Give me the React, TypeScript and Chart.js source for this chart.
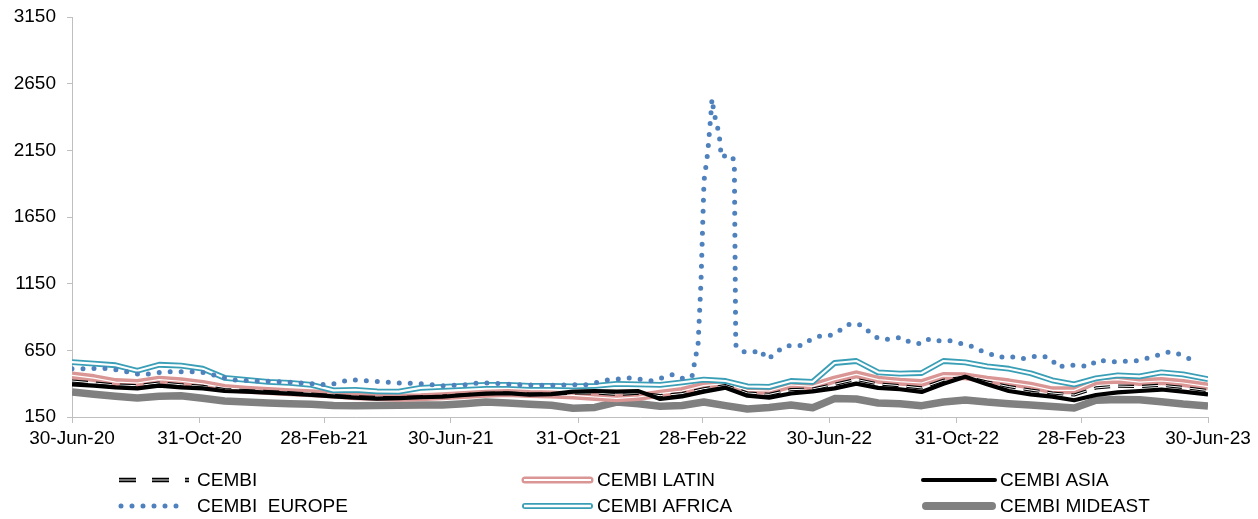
import { useEffect, useRef } from "react";
import { Chart, registerables } from "chart.js";

Chart.register(...registerables);

// x positions are day offsets from 30-Jun-2020
const tickDays = [0, 123, 243, 365, 488, 608, 730, 853, 973, 1095];
const tickLabels = ["30-Jun-20", "31-Oct-20", "28-Feb-21", "30-Jun-21", "31-Oct-21", "28-Feb-22", "30-Jun-22", "31-Oct-22", "28-Feb-23", "30-Jun-23"];
const yTicks = [150, 650, 1150, 1650, 2150, 2650, 3150];

const days = [0, 21, 42, 63, 84, 105, 126, 147, 168, 189, 210, 231, 252, 273, 294, 315, 336, 357, 378, 399, 420, 441, 462, 483, 504, 525, 546, 567, 588, 609, 630, 651, 672, 693, 714, 735, 756, 777, 798, 819, 840, 861, 882, 903, 924, 945, 966, 987, 1008, 1029, 1050, 1071, 1095];

const cembi = [420, 405, 390, 385, 405, 392, 380, 356, 348, 340, 332, 322, 312, 302, 296, 296, 302, 306, 316, 326, 330, 322, 322, 330, 330, 320, 328, 310, 325, 362, 385, 330, 320, 355, 360, 395, 432, 398, 385, 368, 425, 450, 412, 378, 352, 330, 315, 368, 382, 378, 388, 372, 348];
const cembiLatin = [462, 442, 412, 405, 430, 418, 398, 368, 355, 345, 336, 328, 318, 305, 300, 295, 298, 305, 315, 325, 330, 322, 318, 312, 300, 290, 300, 325, 345, 385, 400, 350, 345, 390, 380, 430, 470, 430, 415, 405, 458, 455, 430, 410, 385, 350, 350, 420, 430, 412, 420, 405, 378];
const cembiAsia = [395, 385, 372, 365, 385, 372, 365, 345, 340, 333, 325, 315, 305, 295, 288, 292, 298, 302, 315, 325, 328, 318, 322, 340, 345, 340, 344, 285, 305, 340, 370, 310, 295, 326, 342, 365, 400, 368, 358, 338, 400, 452, 395, 345, 320, 303, 276, 315, 335, 345, 356, 340, 320];
const cembiAfrica = [561, 550, 538, 497, 542, 535, 512, 444, 429, 414, 406, 391, 350, 353, 342, 340, 369, 376, 384, 391, 391, 384, 384, 380, 384, 399, 395, 391, 410, 430, 420, 380, 376, 420, 414, 555, 570, 485, 476, 480, 570, 560, 530, 512, 478, 425, 395, 440, 462, 455, 485, 470, 434];
const cembiMideast = [338, 320, 305, 292, 305, 310, 290, 270, 262, 255, 250, 245, 237, 234, 236, 238, 240, 240, 250, 262, 255, 245, 238, 215, 222, 262, 250, 230, 236, 262, 235, 210, 222, 240, 220, 288, 285, 255, 250, 235, 262, 278, 262, 250, 240, 228, 218, 275, 282, 280, 265, 248, 233];

const europeDays = [0, 36.6, 67.5, 89.6, 123.4, 135.9, 155.2, 181.2, 213, 248.7, 268, 290, 313, 335.5, 357.6, 381.7, 393.3, 425, 451, 473.3, 496.4, 515.7, 537.9, 559, 579.3, 589, 597.6, 603.5, 606.3, 609.2, 612.8, 615.7, 616.9, 618.6, 621.1, 623.7, 625.9, 632.6, 638.4, 639.8, 645.5, 655.2, 664.8, 668, 676.7, 684.4, 693.8, 703.4, 711.4, 721, 728.7, 737.1, 745.1, 753.1, 762.8, 770.9, 778.9, 788.5, 799.8, 807.8, 819.1, 826.4, 836, 846.3, 856, 864.7, 873.6, 884, 892.9, 903.5, 914.5, 925.1, 934.7, 944.4, 949.8, 959.8, 970.7, 981.3, 987.8, 1003.8, 1024.7, 1043.3, 1050.4, 1059.1, 1067.4, 1076.1, 1086.1];
const cembiEurope = [512, 514, 466, 489, 489, 467, 429, 420, 409, 391, 431, 419, 406, 401, 384, 393, 409, 393, 389, 389, 393, 427, 444, 421, 469, 439, 452, 700, 1168, 1921, 2135, 2406, 2537, 2444, 2353, 2281, 2097, 2122, 2077, 690, 640, 635, 650, 588, 610, 672, 690, 685, 728, 758, 758, 778, 834, 853, 834, 766, 733, 733, 748, 710, 698, 736, 721, 721, 703, 690, 653, 627, 597, 607, 585, 602, 610, 585, 522, 540, 534, 530, 577, 565, 570, 602, 627, 640, 620, 590, 577];

const PINK = "#DA9694";
const TEAL = "#3A9FB6";
const BLUE = "#4F81BD";
const GRAY = "#808080";
const FONT = "'Liberation Sans', Arial, sans-serif";

const pts = (xs: number[], ys: number[]) => xs.map((x, i) => ({ x, y: ys[i] }));

const legendPlugin = {
  id: "customLegend",
  afterDraw(chart: any) {
    const ctx = chart.ctx as CanvasRenderingContext2D;
    const cols = [
      { s: 119, e: 189, t: 197 },
      { s: 522, e: 593, t: 597 },
      { s: 923, e: 995, t: 1000 },
    ];
    const rows = [480, 506];
    const line = (x1: number, x2: number, y: number, color: string, w: number, cap: CanvasLineCap, dash: number[] = []) => {
      ctx.save();
      ctx.beginPath();
      ctx.strokeStyle = color;
      ctx.lineWidth = w;
      ctx.lineCap = cap;
      ctx.setLineDash(dash);
      ctx.moveTo(x1, y);
      ctx.lineTo(x2, y);
      ctx.stroke();
      ctx.restore();
    };
    // CEMBI
    line(cols[0].s, cols[0].e, rows[0], "#000", 4.5, "butt", [17, 16]);
    line(cols[0].s, cols[0].e, rows[0], "#9a9a9a", 1.3, "butt", [17, 16]);
    // LATIN
    line(cols[1].s + 3, cols[1].e - 3, rows[0], PINK, 7, "round");
    line(cols[1].s + 2, cols[1].e - 2, rows[0], "#fff", 2, "butt");
    // ASIA
    line(cols[2].s, cols[2].e, rows[0], "#000", 4, "round");
    // EUROPE
    line(cols[0].s + 2, cols[0].e - 2, rows[1], BLUE, 5, "round", [0, 11]);
    // AFRICA
    line(cols[1].s + 3, cols[1].e - 3, rows[1], TEAL, 6, "round");
    line(cols[1].s + 2, cols[1].e - 2, rows[1], "#fff", 2.4, "butt");
    // MIDEAST
    line(cols[2].s + 3, cols[2].e - 3, rows[1], GRAY, 8, "round");

    const labels = [
      ["CEMBI", "CEMBI LATIN", "CEMBI ASIA"],
      ["CEMBI  EUROPE", "CEMBI AFRICA", "CEMBI MIDEAST"],
    ];
    ctx.save();
    ctx.fillStyle = "#000";
    ctx.font = `19px ${FONT}`;
    ctx.textBaseline = "middle";
    ctx.textAlign = "left";
    labels.forEach((row, r) =>
      row.forEach((txt, c) => {
        ctx.fillText(txt, cols[c].t, rows[r] + 1);
      })
    );
    ctx.restore();
  },
};

export default function App() {
  const ref = useRef<HTMLCanvasElement | null>(null);

  useEffect(() => {
    document.body.style.margin = "0";
    const canvas = ref.current;
    if (!canvas) return;
    const base = { pointRadius: 0, pointHoverRadius: 0, tension: 0, fill: false, borderJoinStyle: "round" as const };
    const chart = new Chart(canvas, {
      type: "line",
      data: {
        datasets: [
          { ...base, label: "CEMBI  EUROPE", data: pts(europeDays, cembiEurope), borderColor: BLUE, borderWidth: 5, borderDash: [0, 11], borderCapStyle: "round" },
          { ...base, label: "africa-inner", data: pts(days, cembiAfrica), borderColor: "#fff", borderWidth: 2.2 },
          { ...base, label: "CEMBI AFRICA", data: pts(days, cembiAfrica), borderColor: TEAL, borderWidth: 5.8 },
          { ...base, label: "CEMBI ASIA", data: pts(days, cembiAsia), borderColor: "#000", borderWidth: 4.2 },
          { ...base, label: "cembi-inner", data: pts(days, cembi), borderColor: "#fff", borderWidth: 1, borderDash: [16, 8] },
          { ...base, label: "CEMBI", data: pts(days, cembi), borderColor: "#000", borderWidth: 3.2, borderDash: [16, 8] },
          { ...base, label: "latin-inner", data: pts(days, cembiLatin), borderColor: "#fff", borderWidth: 1.2 },
          { ...base, label: "CEMBI LATIN", data: pts(days, cembiLatin), borderColor: PINK, borderWidth: 8 },
          { ...base, label: "CEMBI MIDEAST", data: pts(days, cembiMideast), borderColor: GRAY, borderWidth: 7.5 },
        ],
      },
      options: {
        animation: false,
        responsive: false,
        maintainAspectRatio: false,
        events: [],
        layout: { padding: { left: 0, right: 50, top: 17, bottom: 62 } },
        plugins: { legend: { display: false }, tooltip: { enabled: false }, title: { display: false } },
        scales: {
          x: {
            type: "linear",
            min: 0,
            max: 1095,
            afterBuildTicks: (scale: any) => {
              scale.ticks = tickDays.map((v) => ({ value: v }));
            },
            afterFit: (scale: any) => {
              scale.height = 40;
              scale.paddingLeft = 0;
              scale.paddingRight = 0;
            },
            ticks: {
              autoSkip: false,
              maxRotation: 0,
              minRotation: 0,
              padding: 4,
              color: "#000",
              font: { family: FONT, size: 19 },
              callback: (v: any) => {
                const i = tickDays.indexOf(Number(v));
                return i >= 0 ? tickLabels[i] : "";
              },
            },
            grid: { drawOnChartArea: false, drawTicks: true, tickLength: 6, color: "#BFBFBF" },
            border: { color: "#BFBFBF", width: 1 },
          },
          y: {
            type: "linear",
            min: 150,
            max: 3150,
            afterBuildTicks: (scale: any) => {
              scale.ticks = yTicks.map((v) => ({ value: v }));
            },
            afterFit: (scale: any) => {
              scale.width = 72;
              scale.paddingTop = 0;
              scale.paddingBottom = 0;
            },
            ticks: {
              padding: 11,
              color: "#000",
              font: { family: FONT, size: 19 },
              callback: (v: any) => String(v),
            },
            grid: { drawOnChartArea: false, drawTicks: true, tickLength: 5, color: "#BFBFBF" },
            border: { color: "#BFBFBF", width: 1 },
          },
        },
      },
      plugins: [legendPlugin],
    });
    return () => chart.destroy();
  }, []);

  return (
    <div style={{ width: 1258, height: 519, background: "#fff" }}>
      <canvas ref={ref} width={1258} height={519} style={{ display: "block", width: 1258, height: 519 }} />
    </div>
  );
}
